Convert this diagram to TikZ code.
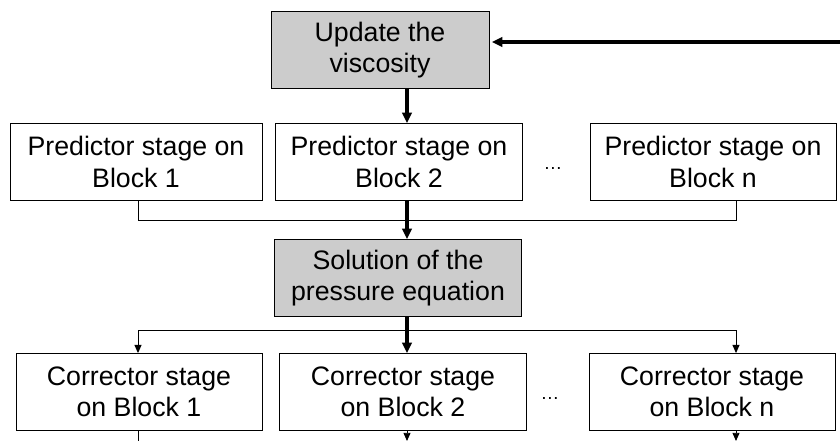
\documentclass[tikz,border=0pt]{standalone}
\usepackage{fontspec}
\setmainfont{Liberation Sans}
\usetikzlibrary{arrows.meta}

\begin{document}
\begin{tikzpicture}[x=0.03cm, y=-0.03cm,
    stage/.style={draw, line width=0.7pt, minimum height=2.31cm, inner sep=0pt,
      align=center, font=\fontsize{22.8}{26.5}\selectfont},
    predbox/.style={stage, font=\fontsize{22.8}{28}\selectfont},
    shaded/.style={stage, fill=black!20},
    bigarrow/.style={line width=3.2pt, -{Triangle[length=9pt, width=8pt]}},
    wire/.style={line width=0.8pt},
    wirearrow/.style={wire, -{Triangle[length=7pt, width=6pt]}},
    gap/.style={font=\fontsize{16}{18}\selectfont}]
  \useasboundingbox (0,0) rectangle (840,441);

  % Define coordinates
  \coordinate (spine) at (407,0);
  \coordinate (lane_l) at (138,0);
  \coordinate (lane_r) at (736,0);
  \coordinate (join) at (0,220);
  \coordinate (split) at (0,330);
  \coordinate (bottom) at (0,441);
  \coordinate (loop_in) at (840,42);

  % Viscosity update
  \node[shaded, minimum width=6.54cm] (upd) at (380,50) {Update the\\viscosity};

  % Predictor stages
  \node[predbox, minimum width=7.56cm] (pred1) at (136,162) {Predictor stage on\\Block 1};
  \node[predbox, minimum width=7.41cm] (pred2) at (399,162) {Predictor stage on\\Block 2};
  \node[predbox, minimum width=7.38cm] (pred3) at (713,162) {Predictor stage on\\Block n};
  \node[gap] (pdots) at (553,168) {\dots};

  % Pressure solve
  \node[shaded, minimum width=7.41cm] (sol) at (398,278) {Solution of the\\pressure equation};

  % Corrector stages
  \node[stage, minimum width=7.38cm] (corr1) at (139,392) {Corrector stage\\on Block 1};
  \node[stage, minimum width=7.41cm] (corr2) at (403,392) {Corrector stage\\on Block 2};
  \node[stage, minimum width=7.38cm] (corr3) at (712,392) {Corrector stage\\on Block n};
  \node[gap] (cdots) at (550,398) {\dots};

  % Main flow
  \draw[bigarrow] (loop_in) -- ([xshift=2pt]upd.east |- loop_in);
  \draw[bigarrow] (upd.south -| spine) -- (pred2.north -| spine);
  \draw[wire] (pred1.south -| lane_l) -- (lane_l |- join) -- (lane_r |- join) -- (pred3.south -| lane_r);
  \draw[bigarrow] (pred2.south -| spine) -- (sol.north -| spine);
  \draw[bigarrow] (sol.south -| spine) -- (corr2.north -| spine);

  % Fan out to the correctors
  \draw[wirearrow] (spine |- split) -| (corr1.north -| lane_l);
  \draw[wirearrow] (spine |- split) -| (corr3.north -| lane_r);

  % Leaving the correctors
  \draw[wire] (corr1.south -| lane_l) -- (lane_l |- bottom);
  \draw[wirearrow] (corr2.south -| spine) -- (spine |- bottom);
  \draw[wirearrow] (corr3.south -| lane_r) -- (lane_r |- bottom);
\end{tikzpicture}
\end{document}
